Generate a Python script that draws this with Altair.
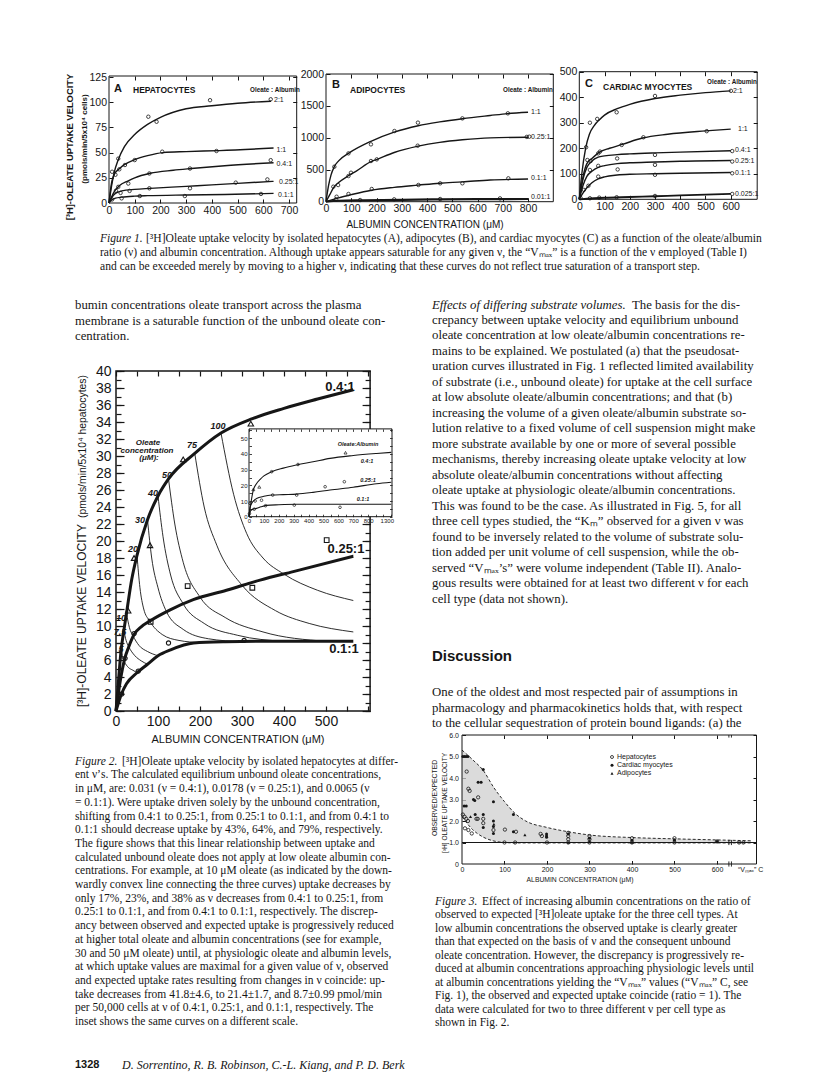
import altair as alt
import pandas as pd

W, H = 800, 1068
M = 8
INK = "#161616"
SANS = "Liberation Sans"
SERIF = "Liberation Serif"

# ======================= DATA =======================
# ---- Figure 1A: hepatocytes (albumin uM -> uptake) ----
A_XLAB = [0, 100, 200, 300, 400, 500, 600, 700]
A_YLAB = [0, 25, 50, 75, 100, 125]
A_21_X = [0, 10, 20, 36, 60, 100, 150, 200, 300, 400, 500, 630]
A_21_Y = [0, 17, 30, 43, 56, 68, 78, 85, 93.5, 96.5, 99, 101]
A_21_PX = [36, 153, 185, 393, 629]
A_21_PY = [44, 85.6, 80.6, 102, 102.9]
A_11_X = [0, 10, 20, 40, 60, 100, 150, 210, 300, 430, 640]
A_11_Y = [0, 20, 28, 34, 38, 43, 47, 50, 51, 52, 54.5]
A_11_PX = [12, 25, 40, 62, 100, 207, 418]
A_11_PY = [31, 28, 33.4, 37.7, 42.6, 50.9, 51.6]
A_04_X = [0, 10, 20, 40, 75, 100, 160, 250, 320, 450, 640]
A_04_Y = [0, 6, 11, 17, 22, 25, 29.5, 32.5, 34.2, 37, 40]
A_04_PX = [36, 75, 157, 315, 629]
A_04_PY = [16, 19.3, 29.3, 34.2, 42.5]
A_025_X = [0, 10, 25, 50, 100, 160, 300, 400, 500, 640]
A_025_Y = [0, 5, 9.5, 12, 13.5, 14.5, 16.5, 18, 19.5, 21.5]
A_025_PX = [27, 45, 80, 157, 315, 493, 616]
A_025_PY = [12.2, 10, 12, 14.6, 14.6, 20.2, 23.4]
A_01_X = [0, 10, 25, 50, 100, 150, 300, 450, 640]
A_01_Y = [0, 3, 4.8, 5.8, 6.8, 7.3, 8, 8.5, 9.5]
A_01_PX = [12, 49, 120, 295, 591]
A_01_PY = [3.5, 4.6, 6.9, 6.9, 9.0]

# ---- Figure 1B: adipocytes ----
B_XLAB = [0, 100, 200, 300, 400, 500, 600, 700, 800]
B_YLAB = [0, 500, 1000, 1500, 2000]
B_11_X = [0, 10, 20, 33, 50, 90, 180, 270, 365, 450, 540, 650, 720, 800]
B_11_Y = [0, 250, 420, 550, 640, 760, 950, 1090, 1190, 1250, 1300, 1350, 1380, 1400]
B_11_PX = [33, 89, 178, 271, 364, 540, 720]
B_11_PY = [548, 757, 898, 1107, 1238, 1305, 1384]
B_025_X = [0, 15, 30, 50, 90, 120, 180, 200, 270, 365, 450, 540, 650, 800]
B_025_Y = [0, 110, 220, 300, 410, 480, 630, 660, 770, 870, 930, 970, 1000, 1010]
B_025_PX = [29, 48, 89, 99, 178, 201, 363, 795, 805]
B_025_PY = [235, 261, 402, 454, 637, 663, 877, 1015, 1018]
B_01_X = [0, 50, 100, 180, 270, 365, 450, 540, 650, 800]
B_01_Y = [0, 60, 110, 180, 225, 260, 290, 310, 340, 355]
B_01_PX = [42, 89, 181, 366, 452, 540, 722]
B_01_PY = [78, 121, 199, 262, 288, 288, 366]
B_001_X = [0, 50, 150, 300, 450, 600, 800]
B_001_Y = [0, 15, 22, 30, 36, 40, 42]
B_001_PX = [40, 135, 270, 452, 689]
B_001_PY = [37, 26, 37, 42, 52]

# ---- Figure 1C: cardiac myocytes ----
C_XLAB = [0, 100, 200, 300, 400, 500, 600]
C_YLAB = [0, 100, 200, 300, 400, 500]
C_21_X = [0, 10, 25, 40, 60, 80, 100, 150, 200, 300, 400, 500, 600]
C_21_Y = [0, 100, 200, 255, 290, 312, 330, 355, 372, 395, 408, 418, 425]
C_21_PX = [27, 42, 71, 148, 300, 601]
C_21_PY = [204, 300, 315, 341, 405, 425]
C_11_X = [0, 15, 30, 50, 80, 120, 170, 250, 350, 500, 600]
C_11_Y = [0, 90, 140, 160, 185, 200, 215, 240, 255, 268, 275]
C_11_PX = [32, 82, 168, 254, 505]
C_11_PY = [154, 187, 213, 243, 267]
C_04_X = [0, 15, 30, 50, 75, 100, 150, 200, 300, 400, 600]
C_04_Y = [0, 80, 125, 150, 165, 170, 175, 178, 182, 185, 190]
C_04_PX = [45, 75, 300, 606]
C_04_PY = [150, 180, 174, 189]
C_025_X = [0, 15, 30, 50, 75, 100, 150, 200, 300, 400, 600]
C_025_Y = [0, 55, 90, 110, 125, 132, 140, 143, 146, 149, 152]
C_025_PX = [42, 75, 150, 300, 606]
C_025_PY = [115, 131, 160, 135, 148]
C_01_X = [0, 15, 30, 50, 75, 100, 150, 200, 300, 400, 600]
C_01_Y = [0, 25, 45, 65, 80, 88, 95, 98, 100, 102, 105]
C_01_PX = [18, 36, 75, 152, 300, 606]
C_01_PY = [37, 53, 89, 117, 96, 102]
C_0025_X = [0, 100, 200, 300, 400, 500, 600]
C_0025_Y = [0, 6, 9, 12, 15, 18, 21]
C_0025_PX = [5, 42, 79, 148, 300, 606]
C_0025_PY = [5, 4, 6.5, 8, 13, 21]

# ---- Figure 2: hepatocytes at different ratios ----
F2_XLAB = [0, 100, 200, 300, 400, 500]
F2_YLAB = list(range(0, 41, 2))
F2_XTK = list(range(0, 601, 50))
F2_YTK = list(range(0, 41))
F2_04_X = [0, 5, 12.5, 18.75, 25, 37.5, 50, 75, 100, 125, 187.5, 250, 325, 400, 480, 565]
F2_04_Y = [0, 3, 7.3, 9.5, 11.5, 15.5, 18.3, 22.5, 25.3, 27.3, 30.3, 32.7, 34.4, 35.6, 36.7, 37.8]
F2_025_X = [0, 10, 21, 30, 43, 60, 81, 129, 184, 263, 343, 422, 565]
F2_025_Y = [0, 3.5, 6.2, 7.5, 9.0, 9.9, 10.6, 11.9, 13.1, 14.2, 15.4, 16.4, 18.2]
F2_01_X = [0, 13, 25, 50, 75, 100, 130, 185, 260, 350, 565]
F2_01_Y = [0, 2.0, 3.2, 4.5, 5.5, 6.5, 7.2, 8.0, 8.15, 8.2, 8.2]
# iso-oleate lines (oleate uM)
ISO_100_X = [250, 280, 311, 350, 400, 480, 565]
ISO_100_Y = [32.7, 25.5, 20.9, 18.0, 16.1, 14.2, 13.0]
ISO_75_X = [187.5, 210, 240, 300, 380, 460, 565]
ISO_75_Y = [30.3, 24, 19.5, 14.8, 11.8, 10.3, 9.3]
ISO_50_X = [125, 140, 160, 200, 260, 350, 500]
ISO_50_Y = [27.3, 22, 17.5, 13.4, 11, 9.3, 8.2]
ISO_40_X = [100, 112, 130, 160, 210, 290, 400]
ISO_40_Y = [25.3, 20.5, 16, 12.6, 10.3, 8.9, 8.2]
ISO_30_X = [75, 85, 100, 120, 160, 220, 300]
ISO_30_Y = [22.5, 18, 14.5, 11.7, 9.6, 8.5, 8.15]
ISO_20_X = [50, 57, 66, 80, 110, 150, 200]
ISO_20_Y = [18.3, 14.5, 12, 10.6, 9.0, 8.3, 8.05]
ISO_10_X = [25, 32, 40, 55, 75, 100]
ISO_10_Y = [11.5, 9.8, 8.9, 7.7, 7.0, 6.5]
ISO_7_5_X = [18.75, 24, 30, 45, 60, 75]
ISO_7_5_Y = [9.5, 8.3, 7.6, 6.5, 5.9, 5.5]
ISO_5_X = [12.5, 16, 20, 30, 40, 50]
ISO_5_Y = [7.3, 6.3, 5.8, 5.1, 4.8, 4.5]
F2_TRI_X = [29, 43, 81, 160, 321]
F2_TRI_Y = [11.8, 18.0, 19.5, 29.6, 33.8]
F2_CIR_X = [13.5, 21.6, 43, 53, 125, 305]
F2_CIR_Y = [2.0, 6.2, 9.1, 4.7, 8.0, 8.3]
F2_SQ_X = [82.5, 170.6, 324.6, 501.6]
F2_SQ_Y = [10.5, 14.7, 14.5, 20.1]
ISO_LABELS = ["100", "75", "50", "40", "30", "20", "10", "7.5", "5"]

# ---- Figure 2 inset ----
IN_XLAB = [0, 100, 200, 300, 400, 500, 600, 700, 800, 925]
IN_YLAB = [0, 10, 20, 30, 40, 50]
IN_XTK = list(range(0, 951, 50))
IN_YTK = list(range(0, 56, 5))
IN_04_X = [0, 10, 29, 50, 75, 100, 152, 230, 320, 430, 544, 700, 856, 955]
IN_04_Y = [0, 7, 17, 21, 23.8, 26, 28.7, 31, 33, 35, 37.2, 39, 40.3, 41]
IN_025_X = [0, 7, 25, 51, 100, 152, 230, 320, 430, 544, 700, 856, 955]
IN_025_Y = [0, 6, 9.5, 11.6, 13, 13.8, 14.1, 14.4, 15.5, 17, 18.8, 21, 22]
IN_01_X = [0, 11, 30, 51, 80, 118, 200, 320, 500, 700, 955]
IN_01_Y = [0, 3.8, 5, 5.3, 6.3, 7.2, 7.6, 7.9, 7.9, 7.9, 7.9]
IN_TRI_X = [29, 69, 648]
IN_TRI_Y = [17.4, 19, 40.8]
IN_CIR_X = [152, 329, 7, 41, 84, 159, 320, 511, 640, 3, 35, 111, 304, 611]
IN_CIR_Y = [28.7, 33.3, 8.5, 10, 10.5, 13.8, 13.8, 19.1, 22.3, 1.9, 4.8, 7.0, 7.4, 6.0]

# ---- Figure 3: observed / expected ratio ----
F3_XLAB = [0, 100, 200, 300, 400, 500, 600]
F3_YLAB = [0, 1, 2, 3, 4, 5, 6]
ENV_X = [0, 25, 50, 75, 100, 125, 150, 200, 250, 300, 400, 500, 600, 680]
ENV_UP = [5.3, 4.85, 4.35, 3.55, 2.9, 2.35, 2.0, 1.7, 1.5, 1.35, 1.23, 1.17, 1.12, 1.08]
ENV_LO = [2.2, 1.6, 1.25, 1.07, 1.0, 0.98, 0.98, 0.98, 0.98, 0.98, 0.98, 0.98, 0.98, 0.98]
UNITY_X = [0, 693]
UNITY_Y = [1.0, 1.0]
HEP_X = [11, 15, 18, 38, 2, 6, 10, 14, 34, 37, 50, 50, 7, 15, 23, 74, 101, 127, 185, 188,
         250, 250, 250, 300, 300, 400, 500, 600, 100, 125, 200, 250, 300, 400, 500, 652, 662]
HEP_Y = [4.3, 3.5, 3.4, 3.1, 2.3, 2.2, 2.1, 2.0, 2.1, 2.1, 2.1, 1.9, 1.66, 1.58, 1.42, 1.58, 1.6, 1.5, 1.4, 1.3,
         1.45, 1.3, 1.15, 1.3, 1.15, 1.2, 1.2, 1.05, 1.0, 1.0, 1.0, 1.0, 1.0, 1.0, 1.0, 1.0, 1.0]
CARD_X = [2, 6, 10, 14, 50, 38, 45, 27, 30, 74, 5, 10, 31, 50, 74, 121, 50, 74, 74, 199, 199, 199,
          250, 300, 400, 500, 600, 121]
CARD_Y = [5.0, 5.0, 5.0, 5.0, 4.4, 3.8, 3.8, 3.0, 2.95, 2.9, 2.7, 2.7, 2.3, 2.3, 2.0, 2.3, 1.7, 1.74, 1.42,
          1.4, 1.3, 1.25, 1.4, 1.2, 1.1, 1.1, 1.05, 1.5]
ADI_X = [148, 20, 75, 250, 300, 400]
ADI_Y = [1.35, 2.2, 1.85, 1.0, 1.05, 1.0]
BREAK_X = [628, 634, 628, 634, 628, 634]
BREAK_Y = [-0.12, -0.12, 0.88, 0.88, 5.88, 5.88]
BREAK_Y2 = [0.12, 0.12, 1.12, 1.12, 6.0, 6.0]
LEGEND_3 = ["Hepatocytes", "Cardiac myocytes", "Adipocytes"]

# ---- Text ----
F1_CAP = [
    "[³H]Oleate uptake velocity by isolated hepatocytes (A), adipocytes (B), and cardiac myocytes (C) as a function of the oleate/albumin",
    "ratio (ν) and albumin concentration. Although uptake appears saturable for any given ν, the “Vₘₐₓ” is a function of the ν employed (Table I)",
    "and can be exceeded merely by moving to a higher ν, indicating that these curves do not reflect true saturation of a transport step.",
]
LEFT_BODY = [
    "bumin concentrations oleate transport across the plasma",
    "membrane is a saturable function of the unbound oleate con-",
    "centration.",
]
RIGHT_BODY = [
    "The basis for the dis-",
    "crepancy between uptake velocity and equilibrium unbound",
    "oleate concentration at low oleate/albumin concentrations re-",
    "mains to be explained. We postulated (a) that the pseudosat-",
    "uration curves illustrated in Fig. 1 reflected limited availability",
    "of substrate (i.e., unbound oleate) for uptake at the cell surface",
    "at low absolute oleate/albumin concentrations; and that (b)",
    "increasing the volume of a given oleate/albumin substrate so-",
    "lution relative to a fixed volume of cell suspension might make",
    "more substrate available by one or more of several possible",
    "mechanisms, thereby increasing oleate uptake velocity at low",
    "absolute oleate/albumin concentrations without affecting",
    "oleate uptake at physiologic oleate/albumin concentrations.",
    "This was found to be the case. As illustrated in Fig. 5, for all",
    "three cell types studied, the “Kₘ” observed for a given ν was",
    "found to be inversely related to the volume of substrate solu-",
    "tion added per unit volume of cell suspension, while the ob-",
    "served “Vₘₐₓ’s” were volume independent (Table II). Analo-",
    "gous results were obtained for at least two different ν for each",
    "cell type (data not shown).",
]
DISCUSSION = [
    "One of the oldest and most respected pair of assumptions in",
    "pharmacology and pharmacokinetics holds that, with respect",
    "to the cellular sequestration of protein bound ligands: (a) the",
]
F2_CAP = [
    "[³H]Oleate uptake velocity by isolated hepatocytes at differ-",
    "ent ν’s. The calculated equilibrium unbound oleate concentrations,",
    "in μM, are: 0.031 (ν = 0.4:1), 0.0178 (ν = 0.25:1), and 0.0065 (ν",
    "= 0.1:1). Were uptake driven solely by the unbound concentration,",
    "shifting from 0.4:1 to 0.25:1, from 0.25:1 to 0.1:1, and from 0.4:1 to",
    "0.1:1 should decrease uptake by 43%, 64%, and 79%, respectively.",
    "The figure shows that this linear relationship between uptake and",
    "calculated unbound oleate does not apply at low oleate albumin con-",
    "centrations. For example, at 10 μM oleate (as indicated by the down-",
    "wardly convex line connecting the three curves) uptake decreases by",
    "only 17%, 23%, and 38% as ν decreases from 0.4:1 to 0.25:1, from",
    "0.25:1 to 0.1:1, and from 0.4:1 to 0.1:1, respectively. The discrep-",
    "ancy between observed and expected uptake is progressively reduced",
    "at higher total oleate and albumin concentrations (see for example,",
    "30 and 50 μM oleate) until, at physiologic oleate and albumin levels,",
    "at which uptake values are maximal for a given value of ν, observed",
    "and expected uptake rates resulting from changes in ν coincide: up-",
    "take decreases from 41.8±4.6, to 21.4±1.7, and 8.7±0.99 pmol/min",
    "per 50,000 cells at ν of 0.4:1, 0.25:1, and 0.1:1, respectively. The",
    "inset shows the same curves on a different scale.",
]
F3_CAP = [
    "Effect of increasing albumin concentrations on the ratio of",
    "observed to expected [³H]oleate uptake for the three cell types. At",
    "low albumin concentrations the observed uptake is clearly greater",
    "than that expected on the basis of ν and the consequent unbound",
    "oleate concentration. However, the discrepancy is progressively re-",
    "duced at albumin concentrations approaching physiologic levels until",
    "at albumin concentrations yielding the “Vₘₐₓ” values (“Vₘₐₓ” C, see",
    "Fig. 1), the observed and expected uptake coincide (ratio = 1). The",
    "data were calculated for two to three different ν per cell type as",
    "shown in Fig. 2.",
]

# ======================= LAYOUT (page pixels) =======================
P1A = dict(xd=[0, 730], xr=[109, 296.7], yd=[0, 126], yr=[203, 76])
P1B = dict(xd=[0, 900], xr=[326, 553.3], yd=[0, 2000], yr=[201.7, 74])
P1C = dict(xd=[0, 705], xr=[579.3, 757.2], yd=[0, 500], yr=[199.3, 71.7])
P2 = dict(xd=[0, 605], xr=[116, 370.1], yd=[0, 40], yr=[711, 371])
PI = dict(xd=[0, 960], xr=[249, 392], yd=[0, 56], yr=[516.7, 428.9])
P3 = dict(xd=[0, 693], xr=[462, 756.5], yd=[0, 6], yr=[864, 735])

ONE = pd.DataFrame({"k": [0]})


def sx(P):
    return alt.Scale(domain=P["xd"], range=[P["xr"][0] - M, P["xr"][1] - M], nice=False, zero=False)


def sy(P):
    return alt.Scale(domain=P["yd"], range=[P["yr"][0] - M, P["yr"][1] - M], nice=False, zero=False)


def xy(ch, P):
    return ch.encode(x=alt.X("x:Q", scale=sx(P), axis=None), y=alt.Y("y:Q", scale=sy(P), axis=None))


def curve(P, xs, ys, w=1.3, dash=None, interp="monotone"):
    kw = dict(color=INK, strokeWidth=w, interpolate=interp)
    if dash:
        kw["strokeDash"] = dash
    return xy(alt.Chart(pd.DataFrame({"x": xs, "y": ys})).mark_line(**kw), P)


def dots(P, xs, ys, shape="circle", size=13, filled=False, sw=0.9):
    df = pd.DataFrame({"x": xs, "y": ys})
    if filled:
        mk = alt.Chart(df).mark_point(shape=shape, size=size, filled=True, color=INK, opacity=1)
    else:
        mk = alt.Chart(df).mark_point(shape=shape, size=size, filled=False, color=INK, strokeWidth=sw, opacity=1)
    return xy(mk, P)


def frame(P, sw=1.0, fill=None):
    df = pd.DataFrame({"x": [P["xd"][0]], "x2": [P["xd"][1]], "y": [P["yd"][0]], "y2": [P["yd"][1]]})
    kw = dict(stroke=INK, strokeWidth=sw)
    if fill:
        kw.update(fill=fill, fillOpacity=1)
    else:
        kw.update(fill="white", fillOpacity=0)
    return alt.Chart(df).mark_rect(**kw).encode(
        x=alt.X("x:Q", scale=sx(P), axis=None), x2="x2:Q",
        y=alt.Y("y:Q", scale=sy(P), axis=None), y2="y2:Q")


def lab_axes(P, xv, yv, fs, xpad, ypad, z=0, xexpr=None, yexpr=None, font=SANS):
    def ax(orient, off, vals, pad, expr):
        kw = dict(orient=orient, offset=off, values=vals, ticks=False, tickSize=0, domain=False, grid=False,
                  labelPadding=pad, labelFont=font, labelFontSize=fs, labelColor=INK, labelFlush=False,
                  labelOverlap=False, title="", zindex=z, format="d")
        if expr:
            kw["labelExpr"] = expr
        return alt.Axis(**kw)
    d = pd.DataFrame({"x": [P["xd"][0]], "y": [P["yd"][0]]})
    return alt.Chart(d).mark_point(opacity=0).encode(
        x=alt.X("x:Q", scale=sx(P), axis=ax("bottom", (P["yr"][0] - M) - H, xv, xpad, xexpr)),
        y=alt.Y("y:Q", scale=sy(P), axis=ax("left", -(P["xr"][0] - M), yv, ypad, yexpr)))


def tick_axes(P, xv, yv, size, z=0, w=1.0):
    def ax(orient, off, vals):
        return alt.Axis(orient=orient, offset=off, values=vals, labels=False, ticks=True, tickSize=size,
                        tickWidth=w, tickColor=INK, domain=False, grid=False, title="", zindex=z)
    d = pd.DataFrame({"x": [P["xd"][0]], "y": [P["yd"][0]]})
    base = alt.Chart(d).mark_point(opacity=0)
    xl, xr = P["xr"]
    yb, yt = P["yr"]
    a = base.encode(x=alt.X("x:Q", scale=sx(P), axis=ax("top", -(yb - M), xv)),
                    y=alt.Y("y:Q", scale=sy(P), axis=ax("right", (xl - M) - W, yv)))
    b = base.encode(x=alt.X("x:Q", scale=sx(P), axis=ax("bottom", (yt - M) - H, xv)),
                    y=alt.Y("y:Q", scale=sy(P), axis=ax("left", -(xr - M), yv)))
    return [a, b]


def T(x, y, s, size, font=SERIF, style="normal", weight="normal", align="left", baseline="middle",
      angle=0, lh=None):
    kw = dict(font=font, fontSize=size, fontStyle=style, fontWeight=weight, align=align,
              baseline=baseline, color=INK)
    if angle:
        kw["angle"] = angle
    if lh:
        kw["lineHeight"] = lh
    return alt.Chart(ONE).mark_text(**kw).encode(x=alt.value(x - M), y=alt.value(y - M), text=alt.value(s))


def block(x, yc, lines, size, lh, **kw):
    return T(x, yc - 0.54 * size, lines, size, baseline="top", lh=lh, **kw)


layers = []

# ---------------- Figure 1 ----------------
for P, xl, yl in [(P1A, A_XLAB, A_YLAB), (P1B, B_XLAB, B_YLAB), (P1C, C_XLAB, C_YLAB)]:
    layers.append(frame(P, 1.0))
    layers.append(lab_axes(P, xl, yl, 10.5, 2, 2.5))
    layers += tick_axes(P, xl[1:], yl[1:], 4)

for P, cx, cy, px_, py_, w in [
    (P1A, A_21_X, A_21_Y, A_21_PX, A_21_PY, 1.4), (P1A, A_11_X, A_11_Y, A_11_PX, A_11_PY, 1.4),
    (P1A, A_04_X, A_04_Y, A_04_PX, A_04_PY, 1.4), (P1A, A_025_X, A_025_Y, A_025_PX, A_025_PY, 1.4),
    (P1A, A_01_X, A_01_Y, A_01_PX, A_01_PY, 1.4),
    (P1B, B_11_X, B_11_Y, B_11_PX, B_11_PY, 1.4), (P1B, B_025_X, B_025_Y, B_025_PX, B_025_PY, 1.4),
    (P1B, B_01_X, B_01_Y, B_01_PX, B_01_PY, 1.4), (P1B, B_001_X, B_001_Y, B_001_PX, B_001_PY, 2.2),
    (P1C, C_21_X, C_21_Y, C_21_PX, C_21_PY, 1.4), (P1C, C_11_X, C_11_Y, C_11_PX, C_11_PY, 1.4),
    (P1C, C_04_X, C_04_Y, C_04_PX, C_04_PY, 1.4), (P1C, C_025_X, C_025_Y, C_025_PX, C_025_PY, 1.4),
    (P1C, C_01_X, C_01_Y, C_01_PX, C_01_PY, 1.4), (P1C, C_0025_X, C_0025_Y, C_0025_PX, C_0025_PY, 1.8),
]:
    layers.append(curve(P, cx, cy, w))
    layers.append(dots(P, px_, py_, size=12, sw=0.8))

# panel headers & curve labels
layers += [
    T(114, 89, "A", 11, font=SANS, weight="bold"),
    T(133, 90, "HEPATOCYTES", 8.5, font=SANS, weight="bold"),
    T(275, 90, "Oleate : Albumin", 6.3, font=SANS, weight="bold", align="center"),
    T(274, 99.5, "2:1", 7, font=SANS), T(276.5, 150, "1:1", 7, font=SANS),
    T(276.5, 164, "0.4:1", 7, font=SANS), T(279, 181.5, "0.25:1", 7, font=SANS),
    T(278, 194.5, "0.1:1", 7, font=SANS),
    T(332, 85, "B", 11, font=SANS, weight="bold"),
    T(350, 89.5, "ADIPOCYTES", 8.5, font=SANS, weight="bold"),
    T(528, 89.5, "Oleate : Albumin", 6.3, font=SANS, weight="bold", align="center"),
    T(531, 112.3, "1:1", 7, font=SANS), T(531, 136.7, "0.25:1", 7, font=SANS),
    T(531, 178.3, "0.1:1", 7, font=SANS), T(531, 196.7, "0.01:1", 7, font=SANS),
    T(585, 84, "C", 11, font=SANS, weight="bold"),
    T(603, 87, "CARDIAC MYOCYTES", 8.5, font=SANS, weight="bold"),
    T(732, 82, "Oleate : Albumin", 6.3, font=SANS, weight="bold", align="center"),
    T(733, 90.7, "2:1", 7, font=SANS), T(738, 129, "1:1", 7, font=SANS),
    T(735, 150, "0.4:1", 7, font=SANS), T(735, 160.7, "0.25:1", 7, font=SANS),
    T(735, 172.7, "0.1:1", 7, font=SANS), T(735, 194, "0.025:1", 7, font=SANS),
    T(73, 147, "[³H]-OLEATE UPTAKE VELOCITY", 9.4, font=SANS, weight="bold", align="center",
      baseline="alphabetic", angle=270),
    T(87, 139, "(pmols/min/5x10⁴ cells)", 8, font=SANS, weight="bold", align="center",
      baseline="alphabetic", angle=270),
    T(425, 225, "ALBUMIN CONCENTRATION (μM)", 10, font=SANS, align="center"),
]

# ---------------- Figure 2 ----------------
for ix, iy in [(ISO_100_X, ISO_100_Y), (ISO_75_X, ISO_75_Y), (ISO_50_X, ISO_50_Y), (ISO_40_X, ISO_40_Y),
               (ISO_30_X, ISO_30_Y), (ISO_20_X, ISO_20_Y), (ISO_10_X, ISO_10_Y), (ISO_7_5_X, ISO_7_5_Y),
               (ISO_5_X, ISO_5_Y)]:
    layers.append(curve(P2, ix, iy, 0.9))
for cx, cy in [(F2_04_X, F2_04_Y), (F2_025_X, F2_025_Y), (F2_01_X, F2_01_Y)]:
    layers.append(curve(P2, cx, cy, 3.0))
layers.append(dots(P2, F2_TRI_X, F2_TRI_Y, shape="triangle-up", size=30, sw=1.1))
layers.append(dots(P2, F2_CIR_X, F2_CIR_Y, shape="circle", size=18, sw=1.1))
layers.append(dots(P2, F2_SQ_X, F2_SQ_Y, shape="square", size=22, sw=1.1))
layers.append(frame(P2, 1.5))
layers.append(lab_axes(P2, F2_XLAB, F2_YLAB, 14, 3, 5))
layers += tick_axes(P2, F2_XTK, F2_YTK, 5, w=1.2)
layers += tick_axes(P2, [], F2_YLAB, 8, w=1.2)

iso_pos = [(218, 426), (192, 445), (167, 475), (153, 493), (140, 520), (133, 549), (121, 618),
           (120, 632), (121, 649)]
for lab, (lx, ly) in zip(ISO_LABELS, iso_pos):
    layers.append(T(lx, ly, lab, 9, font=SANS, style="italic", weight="bold", align="center"))
layers += [
    T(148, 443, "Oleate", 8, font=SANS, style="italic", weight="bold", align="center"),
    T(147, 450.5, "concentration", 8, font=SANS, style="italic", weight="bold", align="center"),
    T(149, 458, "(μM):", 8, font=SANS, style="italic", weight="bold", align="center"),
    T(340, 387, "0.4:1", 13, font=SANS, weight="bold", align="center"),
    T(346, 549, "0.25:1", 13, font=SANS, weight="bold", align="center"),
    T(344, 649, "0.1:1", 13, font=SANS, weight="bold", align="center"),
    T(86, 707, "[³H]-OLEATE UPTAKE VELOCITY", 12, font=SANS, align="left", baseline="alphabetic",
      angle=270),
    T(86, 375, "(pmols/min/5x10⁴ hepatocytes)", 10.4, font=SANS, align="right", baseline="alphabetic",
      angle=270),
    T(238, 740, "ALBUMIN CONCENTRATION (μM)", 11, font=SANS, align="center"),
]

# inset
layers.append(frame(PI, 1.0, fill="white"))
for cx, cy in [(IN_04_X, IN_04_Y), (IN_025_X, IN_025_Y), (IN_01_X, IN_01_Y)]:
    layers.append(curve(PI, cx, cy, 1.1))
layers.append(dots(PI, IN_TRI_X, IN_TRI_Y, shape="triangle-up", size=9, sw=0.7))
layers.append(dots(PI, IN_CIR_X, IN_CIR_Y, shape="circle", size=7, sw=0.7))
layers.append(lab_axes(PI, IN_XLAB, IN_YLAB, 6, 1, 2, z=1,
                       xexpr="datum.value == 925 ? '1300' : datum.label"))
layers += tick_axes(PI, IN_XTK, IN_YTK, 2.5, z=1, w=0.8)
layers += [
    T(358, 444, "Oleate:Albumin", 5.5, font=SANS, style="italic", weight="bold", align="center"),
    T(367, 460.7, "0.4:1", 5.5, font=SANS, style="italic", weight="bold", align="center"),
    T(368, 480, "0.25:1", 5.5, font=SANS, style="italic", weight="bold", align="center"),
    T(363, 499.3, "0.1:1", 5.5, font=SANS, style="italic", weight="bold", align="center"),
]

# ---------------- Figure 3 ----------------
env = pd.DataFrame({"x": ENV_X, "y": ENV_UP, "y2": ENV_LO})
layers.append(alt.Chart(env).mark_area(color="#cfcfcf", opacity=0.75, interpolate="monotone").encode(
    x=alt.X("x:Q", scale=sx(P3), axis=None), y=alt.Y("y:Q", scale=sy(P3), axis=None), y2="y2:Q"))
layers.append(curve(P3, ENV_X, ENV_UP, 0.9, dash=[3, 2]))
layers.append(curve(P3, ENV_X, ENV_LO, 0.9, dash=[3, 2]))
layers.append(curve(P3, UNITY_X, UNITY_Y, 1.0, interp="linear"))
layers.append(dots(P3, HEP_X, HEP_Y, shape="circle", size=11, sw=0.8))
layers.append(dots(P3, CARD_X, CARD_Y, shape="circle", size=9, filled=True))
layers.append(dots(P3, ADI_X, ADI_Y, shape="triangle-up", size=10, filled=True))
brk = pd.DataFrame({"x": BREAK_X, "y": BREAK_Y, "y2": BREAK_Y2})
layers.append(alt.Chart(brk).mark_rule(color=INK, strokeWidth=0.9).encode(
    x=alt.X("x:Q", scale=sx(P3), axis=None), y=alt.Y("y:Q", scale=sy(P3), axis=None), y2="y2:Q"))
layers.append(frame(P3, 1.0))
layers.append(lab_axes(P3, F3_XLAB, F3_YLAB, 7, 1.5, 3.5,
                       yexpr="datum.value == 0 ? '0' : format(datum.value, '.1f')"))
layers += tick_axes(P3, F3_XLAB[1:], F3_YLAB[1:], 3.5)

leg_sym = [("circle", False), ("circle", True), ("triangle-up", True)]
for i, (lab, (shp, fil)) in enumerate(zip(LEGEND_3, leg_sym)):
    yy = 757 + i * 8.2
    if fil:
        layers.append(alt.Chart(ONE).mark_point(shape=shp, size=9, filled=True, color=INK, opacity=1).encode(
            x=alt.value(612 - M), y=alt.value(yy - M)))
    else:
        layers.append(alt.Chart(ONE).mark_point(shape=shp, size=9, filled=False, color=INK, opacity=1,
                                                strokeWidth=0.8).encode(x=alt.value(612 - M), y=alt.value(yy - M)))
    layers.append(T(617, yy, lab, 7, font=SANS))
layers += [
    T(580, 879.5, "ALBUMIN CONCENTRATION (μM)", 6.8, font=SANS, align="center"),
    T(437, 798, "OBSERVED/EXPECTED", 6.8, font=SANS, align="center", baseline="alphabetic", angle=270),
    T(447, 803, "[³H] OLEATE UPTAKE VELOCITY", 6.6, font=SANS, align="center", baseline="alphabetic",
      angle=270),
    T(738, 866, "“Vₘₐₓ” C", 7, font=SANS, baseline="top"),
]

# ---------------- Text blocks ----------------
layers += [
    T(100, 239, "Figure 1.", 11.6, style="italic"),
    T(146, 239, F1_CAP[0], 11.6),
    block(100, 253, F1_CAP[1:], 11.6, 13.8),
    block(75, 306, LEFT_BODY, 12.8, 15.5),
    T(432, 305, "Effects of differing substrate volumes.", 12.8, style="italic"),
    T(632, 305, RIGHT_BODY[0], 12.8),
    block(432, 320.5, RIGHT_BODY[1:], 12.8, 15.5),
    T(432, 656, "Discussion", 15, font=SANS, weight="bold"),
    block(432, 693, DISCUSSION, 12.8, 15.5),
    T(75, 762, "Figure 2.", 11.5, style="italic"),
    T(122, 762, F2_CAP[0], 11.5),
    block(75, 775.7, F2_CAP[1:], 11.5, 13.7),
    T(435, 902, "Figure 3.", 11.5, style="italic"),
    T(482, 902, F3_CAP[0], 11.5),
    block(435, 915.5, F3_CAP[1:], 11.5, 13.5),
    T(75, 1065, "1328", 11, font=SANS, weight="bold"),
    T(122, 1065, "D. Sorrentino, R. B. Robinson, C.-L. Kiang, and P. D. Berk", 12, style="italic"),
]

chart = alt.layer(*layers).resolve_scale(x="independent", y="independent").resolve_axis(
    x="independent", y="independent").properties(
    width=W, height=H, autosize=alt.AutoSizeParams(type="none"), padding=0).configure_view(strokeWidth=0)

chart.save("out.html", embed_options={"renderer": "svg", "actions": False})
